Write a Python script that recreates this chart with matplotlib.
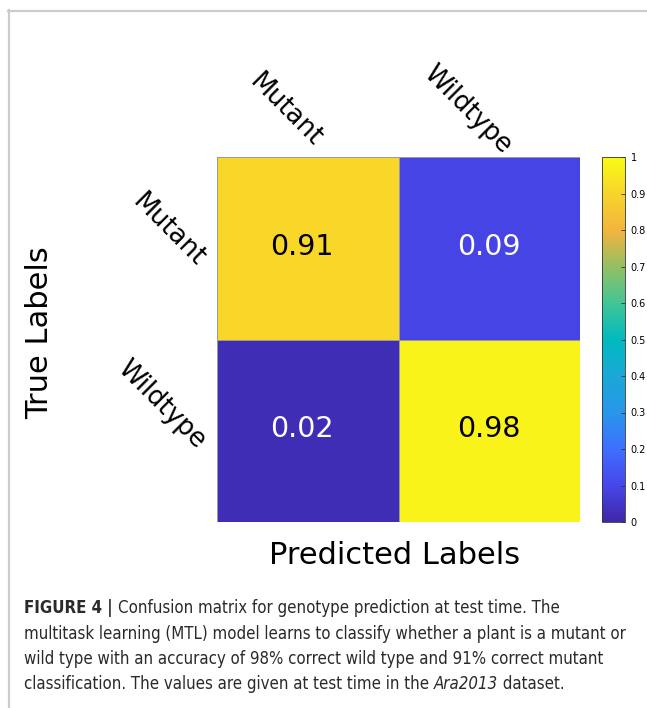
import matplotlib
matplotlib.use("Agg")
import matplotlib.pyplot as plt
import numpy as np
from matplotlib.colors import LinearSegmentedColormap
from matplotlib import font_manager
from matplotlib.font_manager import FontProperties
from matplotlib.lines import Line2D

# ---- data ----
pred_labels = ["Mutant", "Wildtype"]
true_labels = ["Mutant", "Wildtype"]
values = [[0.91, 0.09],
          [0.02, 0.98]]
cbar_ticks = [0, 0.1, 0.2, 0.3, 0.4, 0.5, 0.6, 0.7, 0.8, 0.9, 1]
cbar_ticklabels = ["0", "0.1", "0.2", "0.3", "0.4", "0.5", "0.6", "0.7", "0.8", "0.9", "1"]
caption_lines = [
    "Confusion matrix for genotype prediction at test time. The",
    "multitask learning (MTL) model learns to classify whether a plant is a mutant or",
    "wild type with an accuracy of 98% correct wild type and 91% correct mutant",
    "classification. The values are given at test time in the ",
]

# parula-like colormap
parula_colors = [
    (0.2422, 0.1504, 0.6603),
    (0.2803, 0.2782, 0.9221),
    (0.2440, 0.4358, 0.9988),
    (0.1540, 0.5902, 0.9218),
    (0.1000, 0.6600, 0.8400),
    (0.0000, 0.7300, 0.7500),
    (0.2586, 0.7751, 0.5829),
    (0.5800, 0.7500, 0.3900),
    (0.9500, 0.7100, 0.2400),
    (0.9700, 0.8300, 0.1700),
    (0.9769, 0.9839, 0.0805),
]
parula = LinearSegmentedColormap.from_list("parula", parula_colors, N=256)

# ---- caption font: prefer a narrow/condensed face ----
def find_faces():
    ttf = font_manager.fontManager.ttflist
    for fam_key in ["Liberation Sans Narrow", "DejaVu Sans Condensed"]:
        faces = {}
        for f in ttf:
            fn = f.fname.replace("-", "").replace("_", "").lower()
            key = fam_key.replace(" ", "").lower()
            if key in fn or (f.name == fam_key):
                if f.weight in ("bold", 700) or "bold" in fn:
                    if f.style == "italic" or "italic" in fn or "oblique" in fn:
                        continue
                    faces.setdefault("bold", f.fname)
                elif f.style in ("italic", "oblique") or "italic" in fn or "oblique" in fn:
                    faces.setdefault("italic", f.fname)
                else:
                    faces.setdefault("regular", f.fname)
        if "regular" in faces:
            return faces
    return None

faces = find_faces()

def cap_prop(kind, size):
    if faces is not None:
        fname = faces.get(kind, faces["regular"])
        return FontProperties(fname=fname, size=size)
    kw = {"regular": {}, "bold": {"weight": "bold"}, "italic": {"style": "italic"}}[kind]
    return FontProperties(family="Liberation Sans", size=size, **kw)

W, H = 647, 708
fig = plt.figure(figsize=(W / 100, H / 100), dpi=100)
fig.patch.set_facecolor("white")

def fx(px):
    return px / W

def fy(py):
    return 1 - py / H

ax = fig.add_axes([fx(217), fy(522), fx(580) - fx(217), fy(157) - fy(522)])
arr = np.array(values)
mesh = ax.pcolormesh(np.arange(3) - 0.5, np.arange(3) - 0.5, arr, cmap=parula,
                     vmin=0, vmax=1, edgecolor="#9a9a9a", linewidth=0.4)
ax.set_xlim(-0.5, 1.5)
ax.set_ylim(1.5, -0.5)
ax.set_xticks([])
ax.set_yticks([])
for s in ax.spines.values():
    s.set_visible(False)

for i in range(2):
    for j in range(2):
        v = values[i][j]
        col = "black" if v > 0.5 else "white"
        ax.annotate(f"{v:.2f}", xy=(j, i), xycoords="data",
                    xytext=(-4 if j == 0 else 0, 1), textcoords="offset points",
                    ha="center", va="center", fontsize=20.5,
                    color=col, family="DejaVu Sans")

# top (predicted) labels
for j, lab in enumerate(pred_labels):
    ax.annotate(lab, xy=(j, -0.5), xycoords="data", xytext=(-16, 34),
                textcoords="offset points", rotation=-45, ha="center", va="center",
                fontsize=18.5, family="DejaVu Sans")
# left (true) labels
for i, lab in enumerate(true_labels):
    ax.annotate(lab, xy=(-0.5, i), xycoords="data", xytext=(-5, -17),
                textcoords="offset points", rotation=-45, ha="right", va="bottom",
                fontsize=18.5, family="DejaVu Sans")

fig.text(fx(395), fy(556), "Predicted Labels", ha="center", va="center",
         fontsize=22, family="DejaVu Sans")
fig.text(fx(40), fy(333), "True Labels", ha="center", va="center", rotation=90,
         fontsize=22, family="DejaVu Sans")

# colorbar
cax = fig.add_axes([fx(602), fy(522), fx(625) - fx(602), fy(157) - fy(522)])
cb = fig.colorbar(mesh, cax=cax)
cb.set_ticks(cbar_ticks)
cb.set_ticklabels(cbar_ticklabels)
cax.tick_params(direction="in", length=3, width=0.6, labelsize=7, pad=4, color="#333333")
cb.outline.set_linewidth(0.6)
cb.outline.set_edgecolor("#333333")

# border lines
fig.add_artist(Line2D([fx(8), 1], [fy(10.5), fy(10.5)], color="#cccccc", lw=1.6,
                      transform=fig.transFigure))
fig.add_artist(Line2D([fx(8.5), fx(8.5)], [fy(10), 0], color="#cccccc", lw=1.6,
                      transform=fig.transFigure))

# caption
cap_color = "#2a2a2a"
baselines = [613, 639, 664, 689]
fig.canvas.draw()
renderer = fig.canvas.get_renderer()

# fit font size so that the longest line spans ~601 px as in the reference
probe = fig.text(0, 0, caption_lines[1], fontproperties=cap_prop("regular", 13.2))
pw = probe.get_window_extent(renderer=renderer).width
probe.remove()
cap_fs = min(13.2, 13.2 * 601.0 / pw)

def place_seq(pieces, x_px, y_px):
    x = x_px
    for txt, kind in pieces:
        t = fig.text(fx(x), fy(y_px), txt, va="baseline", ha="left",
                     color=cap_color, fontproperties=cap_prop(kind, cap_fs))
        bb = t.get_window_extent(renderer=renderer)
        x += bb.width

place_seq([("FIGURE 4 | ", "bold"), (caption_lines[0], "regular")], 24, baselines[0])
place_seq([(caption_lines[1], "regular")], 24, baselines[1])
place_seq([(caption_lines[2], "regular")], 24, baselines[2])
place_seq([(caption_lines[3], "regular"), ("Ara2013", "italic"), (" dataset.", "regular")],
          24, baselines[3])

fig.savefig("out.png", dpi=100, facecolor="white")
